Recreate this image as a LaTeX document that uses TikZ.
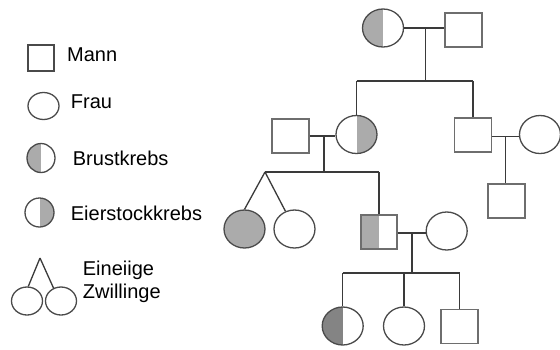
\documentclass[tikz,border=0pt]{standalone}
\usepackage{fontspec}
\setmainfont{Liberation Sans}
\usetikzlibrary{shapes.geometric}
\definecolor{outl}{HTML}{4A4A4A}
\definecolor{soutl}{HTML}{6E6E6E}
\definecolor{linec}{HTML}{3A3A3A}
\definecolor{lgray}{HTML}{ABABAB}
\definecolor{dgray}{HTML}{848484}
\tikzset{
  man/.style={rectangle, draw=soutl, line width=1.3pt, minimum width=37pt, minimum height=34pt, inner sep=0pt},
  woman/.style={ellipse, draw=outl, line width=1.3pt, minimum width=41pt, minimum height=38pt, inner sep=0pt},
  lhalf/.style={path picture={\fill[#1] (path picture bounding box.north west) rectangle (path picture bounding box.south);}},
  rhalf/.style={path picture={\fill[#1] (path picture bounding box.north) rectangle (path picture bounding box.south east);}},
  conn/.style={draw=linec, line width=1.3pt},
  lbl/.style={anchor=west, inner sep=0pt, font=\fontsize{20}{24}\selectfont, text=black},
}
\begin{document}
\begin{tikzpicture}[x=1pt, y=-1pt]
\useasboundingbox[fill=white] (0,0) rectangle (560,349);

% ---------- legend ----------
\node[man, draw=outl, minimum width=26pt, minimum height=26pt] (lmann) at (41,58) {};
\node[lbl] (tmann) at (67,55) {Mann};
\node[woman, minimum width=31pt, minimum height=27pt] (lfrau) at (43.5,106) {};
\node[lbl] (tfrau) at (70.7,102) {Frau};
\node[woman, minimum width=28pt, minimum height=29pt, lhalf=lgray] (lbrust) at (41,158) {};
\node[lbl] (tbrust) at (72.7,158) {Brustkrebs};
\node[woman, minimum width=29pt, minimum height=29pt, rhalf=lgray] (leier) at (39.5,212.5) {};
\node[lbl] (teier) at (70.7,213) {Eierstockkrebs};
\coordinate (ltw) at (40,258);
\node[woman, minimum width=31pt, minimum height=28pt] (ltw1) at (27,301) {};
\node[woman, minimum width=31pt, minimum height=28pt] (ltw2) at (61,301) {};
\draw[conn] (ltw) -- (ltw1.85);
\draw[conn] (ltw) -- (ltw2.120);
\node[lbl, align=left] (ttw) at (82.7,281.5) {Eineiige\\[-1pt]Zwillinge};

% ---------- generation 1 ----------
\node[woman, lhalf=lgray] (g1w) at (383,28) {};
\node[man] (g1m) at (463.5,30) {};
\draw[conn] (g1w.east) -- (g1w.east -| g1m.west);
\coordinate (m1) at (425.7,28);
\coordinate (s1) at (425.7,81);
\draw[conn] (m1) -- (s1);

% ---------- generation 2 ----------
\node[man] (g2h) at (290.5,136) {};
\node[woman, rhalf=lgray] (g2w) at (356.5,134.5) {};
\node[man] (g2m) at (473,135) {};
\node[woman] (g2wr) at (540,134.5) {};
\draw[conn] (g2w.north |- s1) -- (g2m.north |- s1);
\draw[conn] (g2w.north |- s1) -- (g2w.north);
\draw[conn] (g2m.north |- s1) -- (g2m.north);
% couple g2h - g2w
\coordinate (m2) at (324,136);
\draw[conn] (g2h.east) -- (g2h.east -| g2w.west);
\coordinate (s2) at (324,172);
\draw[conn] (m2) -- (s2);
% couple g2m - g2wr
\coordinate (m3) at (505.7,136.5);
\draw[conn] (g2m.east |- m3) -- (g2wr.west |- m3);
\node[man] (g3r) at (506.5,201) {};
\draw[conn] (m3) -- (g3r.north -| m3);

% ---------- generation 3 ----------
\coordinate (tw) at (265,172);
\node[woman, fill=lgray] (g3a) at (244.5,229) {};
\node[woman] (g3b) at (294.5,229) {};
\node[man, minimum width=36pt, lhalf=lgray] (g3s) at (379,232) {};
\node[woman] (g3w) at (446.7,231) {};
\draw[conn] (tw) -- (g3s.north |- tw);
\draw[conn] (g3s.north |- tw) -- (g3s.north);
\draw[conn] (tw) -- (g3a.north);
\draw[conn] (tw) -- (g3b.117);
% couple g3s - g3w
\coordinate (m4) at (412,233);
\draw[conn] (g3s.east |- m4) -- (g3w.west |- m4);
\coordinate (s4) at (412,273);
\draw[conn] (m4) -- (s4);

% ---------- generation 4 ----------
\node[woman, lhalf=dgray] (g4a) at (342.7,326) {};
\node[woman] (g4b) at (404,326) {};
\node[man] (g4c) at (459.5,326.5) {};
\draw[conn] (g4a.north |- s4) -- (g4c.north |- s4);
\draw[conn] (g4a.north |- s4) -- (g4a.north);
\draw[conn] (g4b.north |- s4) -- (g4b.north);
\draw[conn] (g4c.north |- s4) -- (g4c.north);
\end{tikzpicture}
\end{document}
